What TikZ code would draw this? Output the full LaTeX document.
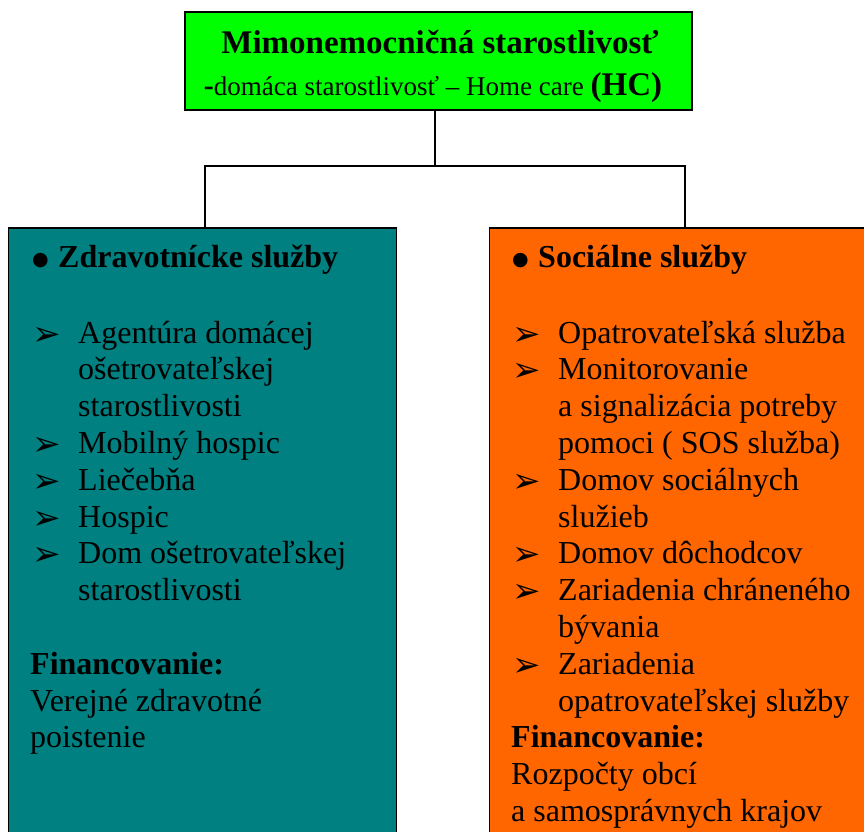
\documentclass[tikz,border=0pt]{standalone}
\usepackage{fontspec}
\setmainfont{Liberation Serif}
\newfontfamily\symf{DejaVu Sans}
\definecolor{hcgreen}{HTML}{00FF00}
\definecolor{hcteal}{HTML}{008080}
\definecolor{hcorange}{HTML}{FF6600}
\begin{document}
\begin{tikzpicture}[x=1pt,y=-1pt,
  boxstyle/.style={draw=black, line width=1.5pt, anchor=north west, inner sep=0pt, outer sep=0pt},
  linkstyle/.style={draw=black, line width=2pt},
  txt/.style={anchor=base west, inner sep=0pt, font=\fontsize{32}{36.8}\selectfont},
  hdr/.style={anchor=base west, inner sep=0pt, font=\fontsize{32}{36.8}\selectfont\bfseries},
  arr/.style={anchor=base west, inner sep=0pt, font=\fontsize{34}{38}\symf},
  dot/.style={anchor=base west, inner sep=0pt, font=\fontsize{19}{22}\symf}]
\useasboundingbox (0,0) rectangle (864,831);
\clip (0,0) rectangle (864,831);
% boxes
\node[boxstyle, fill=hcgreen, minimum width=507pt, minimum height=98pt] (top) at (185,12) {};
\node[boxstyle, fill=hcteal, minimum width=388pt, minimum height=640pt] (lbox) at (8.5,228) {};
\node[boxstyle, fill=hcorange, minimum width=420pt, minimum height=640pt] (rbox) at (489.5,228) {};
% title
\node[anchor=base, inner sep=0pt, font=\fontsize{33}{38}\selectfont\bfseries] (t1) at (440,53) {Mimonemocničná starostlivosť};
\node[anchor=base, inner sep=0pt, font=\fontsize{27}{32}\selectfont] (t2) at (433,95) {{\fontsize{30}{32}\selectfont\textbf{-}}domáca starostlivosť – Home care \fontsize{33}{38}\selectfont\textbf{(HC)}};
% connectors
\coordinate (junc) at (435,166);
\coordinate (lin) at (205,228);
\coordinate (rin) at (685,228);
\draw[linkstyle] (top.south -| junc) -- (junc);
\draw[linkstyle] (junc) -| (lin);
\draw[linkstyle] (junc) -| (rin);
% left column
\node[dot] (lb) at (32,265) {●};
\node[hdr] (lh) at (58,267) {Zdravotnícke služby};
\foreach \k/\s in {0/Agentúra domácej, 1/ošetrovateľskej, 2/starostlivosti, 3/Mobilný hospic, 4/Liečebňa, 5/Hospic, 6/Dom ošetrovateľskej, 7/starostlivosti}
  \node[txt] (l\k) at (78,343+36.8*\k) {\s};
\foreach \k in {0,3,4,5,6}
  \node[arr] (la\k) at (32,345+36.8*\k) {➢};
\node[hdr] (lf) at (30,674.2) {Financovanie:};
\node[txt] (lf1) at (30,711) {Verejné zdravotné};
\node[txt] (lf2) at (30,747.8) {poistenie};
% right column
\node[dot] (rb) at (512,265) {●};
\node[hdr] (rh) at (538,267) {Sociálne služby};
\foreach \k/\s in {0/Opatrovateľská služba, 1/Monitorovanie, 2/a signalizácia potreby, 3/pomoci ( SOS služba), 4/Domov sociálnych, 5/služieb, 6/Domov dôchodcov, 7/Zariadenia chráneného, 8/bývania, 9/Zariadenia, 10/opatrovateľskej služby}
  \node[txt] (r\k) at (558,343+36.8*\k) {\s};
\foreach \k in {0,1,4,6,7,9}
  \node[arr] (ra\k) at (512,345+36.8*\k) {➢};
\node[hdr] (rf) at (511,747.8) {Financovanie:};
\node[txt] (rf1) at (511,784.6) {Rozpočty obcí};
\node[txt] (rf2) at (511,821.4) {a samosprávnych krajov};
\end{tikzpicture}
\end{document}
